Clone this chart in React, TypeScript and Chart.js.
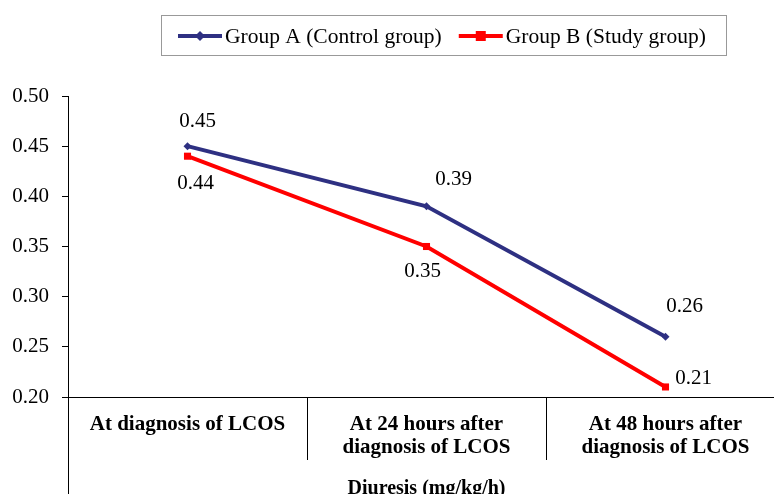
import React, { useEffect, useRef } from "react";
import { Chart, registerables } from "chart.js";

Chart.register(...registerables);

const categories: (string | string[])[] = [
  "At diagnosis of LCOS",
  ["At 24 hours after", "diagnosis of LCOS"],
  ["At 48 hours after", "diagnosis of LCOS"],
];
const groupALabel = "Group A (Control group)";
const groupBLabel = "Group B (Study group)";
const groupA = [0.45, 0.39, 0.26];
const groupB = [0.44, 0.35, 0.21];
const yTicks = [0.2, 0.25, 0.3, 0.35, 0.4, 0.45, 0.5];
const xTitle = "Diuresis (mg/kg/h)";

const FONT = "'Liberation Serif', 'Times New Roman', serif";
const NAVY = "#2E3082";
const RED = "#FF0000";

// label offsets (style only): [dx, dy] of label centre from its point
const labelOffsets = [
  [[10, -25], [27, -27], [19, -30]],
  [[8, 27], [-4, 25], [28, -8]],
];

const dataLabelPlugin = {
  id: "dataLabels",
  afterDatasetsDraw(chart: any) {
    const ctx = chart.ctx;
    ctx.save();
    ctx.font = `21px ${FONT}`;
    ctx.fillStyle = "#000";
    ctx.textAlign = "center";
    ctx.textBaseline = "middle";
    chart.data.datasets.forEach((ds: any, di: number) => {
      const meta = chart.getDatasetMeta(di);
      meta.data.forEach((pt: any, i: number) => {
        const off = labelOffsets[di][i];
        ctx.fillText(Number(ds.data[i]).toFixed(2), pt.x + off[0], pt.y + off[1]);
      });
    });
    ctx.restore();
  },
};

const legendPlugin = {
  id: "boxLegend",
  afterDraw(chart: any) {
    const ctx = chart.ctx;
    ctx.save();
    ctx.font = `21.5px ${FONT}`;
    ctx.textBaseline = "middle";
    const cy = 36;
    let x = 178;
    const lineLen = 44;
    let textEnd = x;
    chart.data.datasets.forEach((ds: any) => {
      ctx.strokeStyle = ds.borderColor;
      ctx.lineWidth = 4;
      ctx.beginPath();
      ctx.moveTo(x, cy);
      ctx.lineTo(x + lineLen, cy);
      ctx.stroke();
      ctx.fillStyle = ds.borderColor;
      const mx = x + lineLen / 2;
      if (ds.pointStyle === "rect") {
        ctx.fillRect(mx - 5, cy - 5, 10, 10);
      } else {
        ctx.beginPath();
        ctx.moveTo(mx, cy - 5);
        ctx.lineTo(mx + 5, cy);
        ctx.lineTo(mx, cy + 5);
        ctx.lineTo(mx - 5, cy);
        ctx.closePath();
        ctx.fill();
      }
      x += lineLen + 3;
      ctx.fillStyle = "#000";
      ctx.textAlign = "left";
      ctx.fillText(ds.label, x, cy + 1);
      textEnd = x + ctx.measureText(ds.label).width;
      x = textEnd + 17;
    });
    ctx.strokeStyle = "#999";
    ctx.lineWidth = 1;
    ctx.strokeRect(161.5, 15.5, Math.round(textEnd + 20 - 161), 40);
    ctx.restore();
  },
};

const axisExtendPlugin = {
  id: "axisExtend",
  afterDraw(chart: any) {
    const ctx = chart.ctx;
    const a = chart.chartArea;
    ctx.save();
    ctx.strokeStyle = "#000";
    ctx.lineWidth = 1;
    ctx.beginPath();
    const x = Math.round(a.left) + 0.5;
    ctx.moveTo(x, a.bottom);
    ctx.lineTo(x, chart.height);
    ctx.stroke();
    ctx.restore();
  },
};

export default function App() {
  const ref = useRef<HTMLCanvasElement>(null);
  useEffect(() => {
    if (!ref.current) return;
    const chart = new Chart(ref.current, {
      type: "line",
      data: {
        labels: categories,
        datasets: [
          {
            label: groupALabel,
            data: groupA,
            borderColor: NAVY,
            backgroundColor: NAVY,
            borderWidth: 4,
            pointStyle: "rectRot",
            pointRadius: 4,
            pointBorderWidth: 0,
            tension: 0,
          },
          {
            label: groupBLabel,
            data: groupB,
            borderColor: RED,
            backgroundColor: RED,
            borderWidth: 4,
            pointStyle: "rect",
            pointRadius: 5,
            pointBorderWidth: 0,
            tension: 0,
          },
        ],
      },
      options: {
        responsive: false,
        animation: false,
        devicePixelRatio: 1,
        layout: { padding: { top: 96, right: 15, left: 0, bottom: 0 } },
        plugins: { legend: { display: false }, tooltip: { enabled: false } },
        scales: {
          x: {
            type: "category",
            offset: true,
            grid: {
              offset: true,
              drawOnChartArea: false,
              drawTicks: true,
              tickLength: 63,
              color: "#000",
              lineWidth: 1,
            },
            border: { display: true, color: "#000", width: 1 },
            ticks: {
              padding: -47,
              maxRotation: 0,
              autoSkip: false,
              color: "#000",
              font: { family: FONT, size: 21, weight: "bold", lineHeight: 1.1 },
            },
            title: {
              display: true,
              text: xTitle,
              color: "#000",
              font: { family: FONT, size: 20, weight: "bold" },
              padding: { top: 0, bottom: 9 },
            },
            afterFit: (s: any) => {
              s.height = 113;
            },
          },
          y: {
            min: yTicks[0],
            max: yTicks[yTicks.length - 1],
            afterBuildTicks: (s: any) => {
              s.ticks = yTicks.map((v) => ({ value: v }));
            },
            ticks: {
              callback: (v: any) => Number(v).toFixed(2),
              padding: 13,
              color: "#000",
              font: { family: FONT, size: 21 },
            },
            grid: {
              drawOnChartArea: false,
              drawTicks: true,
              tickLength: 6,
              color: "#000",
            },
            border: { display: true, color: "#000", width: 1 },
            afterFit: (s: any) => {
              s.width = 68;
            },
          },
        },
      },
      plugins: [dataLabelPlugin, legendPlugin, axisExtendPlugin],
    } as any);
    return () => chart.destroy();
  }, []);
  return (
    <div
      style={{
        position: "absolute",
        left: 0,
        top: 0,
        width: 774,
        height: 494,
        overflow: "hidden",
        background: "#fff",
      }}
    >
      <canvas ref={ref} width={800} height={510} style={{ width: 800, height: 510, display: "block" }} />
    </div>
  );
}
